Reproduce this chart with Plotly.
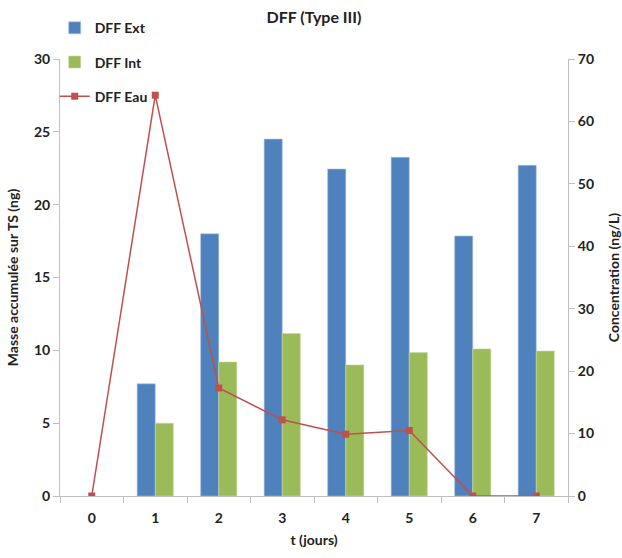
import plotly.graph_objects as go

days = ["0", "1", "2", "3", "4", "5", "6", "7"]
dff_ext = [None, 7.7, 18.0, 24.5, 22.45, 23.25, 17.85, 22.7]
dff_int = [None, 5.0, 9.2, 11.15, 9.0, 9.85, 10.1, 9.95]
dff_eau = [0, 64.2, 17.3, 12.2, 9.9, 10.5, 0, 0]

FONT = "Lato"
axis_col = "#BFBFBF"
txt_col = "#222222"

fig = go.Figure()
fig.add_trace(go.Bar(x=days, y=dff_ext, name="DFF Ext", marker_color="#4F81BD",
                     marker_line_color="#A9C1E0", marker_line_width=0.6, legendgroup="a"))
fig.add_trace(go.Bar(x=days, y=dff_int, name="DFF Int", marker_color="#9BBB59",
                     marker_line_color="#C8DCA4", marker_line_width=0.6, legendgroup="b"))
fig.add_trace(go.Scatter(x=days, y=dff_eau, name="DFF Eau", yaxis="y2", mode="lines+markers",
                         line=dict(color="#C0504D", width=1.5),
                         marker=dict(symbol="square", size=7, color="#C0504D"), legendgroup="c"))

fig.update_layout(
    width=622, height=558,
    margin=dict(l=60, r=54, t=58, b=60),
    paper_bgcolor="white", plot_bgcolor="white",
    font=dict(family=FONT, size=14, color=txt_col, weight="bold"),
    title=dict(text="DFF (Type III)", x=0.5, xanchor="center", xref="paper",
               y=1 - 17 / 558, yanchor="middle", yref="container",
               font=dict(family=FONT, size=16, color=txt_col, weight="bold")),
    barmode="group", bargap=0.43, bargroupgap=0,
    showlegend=True,
    legend=dict(x=-0.0104, xanchor="left", y=1.107, yanchor="top", orientation="v",
                tracegroupgap=13, itemwidth=30, bgcolor="rgba(0,0,0,0)",
                font=dict(family=FONT, size=14, color=txt_col, weight="bold")),
    xaxis=dict(type="category", range=[-0.5, 7.5], showline=True, linecolor=axis_col, linewidth=1,
               ticks="outside", tickson="boundaries", tickcolor=axis_col, ticklen=6,
               ticklabelstandoff=9,
               showgrid=False, zeroline=False,
               title=dict(text="t (jours)", standoff=10, font=dict(family=FONT, size=14, color=txt_col, weight="bold"))),
    yaxis=dict(range=[0, 30], dtick=5, showline=True, linecolor=axis_col, linewidth=1,
               ticks="outside", tickcolor=axis_col, ticklen=6, showgrid=False, zeroline=False,
               title=dict(text="Masse accumulée sur TS (ng)", standoff=12,
                          font=dict(family=FONT, size=14, color=txt_col, weight="bold"))),
    yaxis2=dict(range=[0, 70], dtick=10, overlaying="y", side="right", showline=True,
                linecolor=axis_col, linewidth=1, ticks="outside", tickcolor=axis_col, ticklen=6,
                showgrid=False, zeroline=False, automargin=False,
                title=dict(text="Concentration (ng/L)", standoff=16,
                           font=dict(family=FONT, size=14, color=txt_col, weight="bold"))),
)

fig.write_html("out.html", config={"displayModeBar": False},
               post_script="document.body.style.margin='0';")
